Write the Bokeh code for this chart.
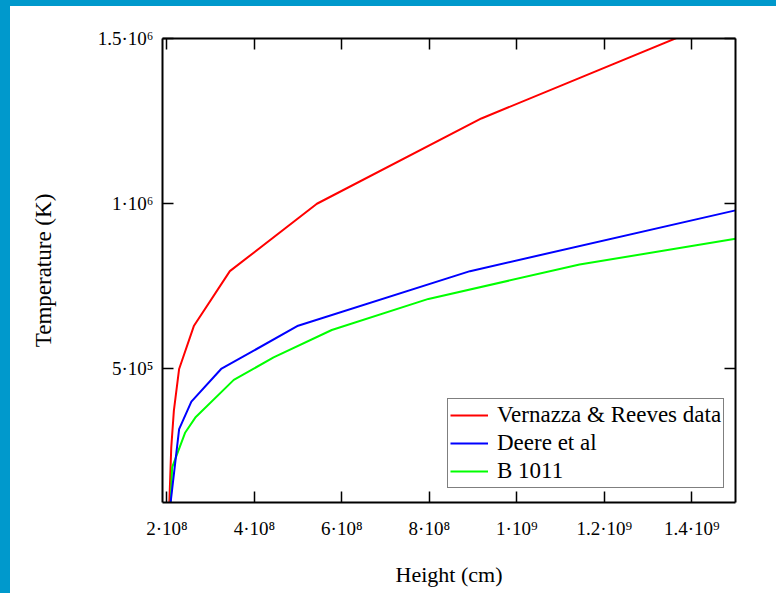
from bokeh.plotting import figure
from bokeh.models import (LinearAxis, FixedTicker, Range1d, Legend, LegendItem)
from bokeh.embed import file_html
from bokeh.resources import INLINE

# ---- data ----
height_vr = [2.055e8, 2.10e8, 2.16e8, 2.28e8, 2.62e8, 3.44e8, 5.43e8, 9.19e8, 1.5e9]
temp_vr = [9.0e4, 2.62e5, 3.74e5, 5.0e5, 6.31e5, 7.96e5, 1.0e6, 1.258e6, 1.575e6]

height_deere = [2.08e8, 2.28e8, 2.56e8, 3.24e8, 5.0e8, 8.93e8, 1.5e9]
temp_deere = [9.0e4, 3.18e5, 4.01e5, 5.0e5, 6.31e5, 7.96e5, 9.8e5]

height_b = [2.085e8, 2.12e8, 2.42e8, 2.65e8, 3.53e8, 4.44e8, 5.77e8, 7.98e8, 1.1435e9, 1.5e9]
temp_b = [9.0e4, 2.02e5, 3.08e5, 3.53e5, 4.67e5, 5.35e5, 6.18e5, 7.12e5, 8.16e5, 8.94e5]

series_names = ["Vernazza & Reeves data", "Deere et al", "B 1011"]

x_ticks = [2e8, 4e8, 6e8, 8e8, 1e9, 1.2e9, 1.4e9]
x_tick_labels = ["2·10⁸", "4·10⁸", "6·10⁸", "8·10⁸", "1·10⁹", "1.2·10⁹", "1.4·10⁹"]
y_ticks = [5e5, 1e6, 1.5e6]
y_tick_labels = ["5·10⁵", "1·10⁶", "1.5·10⁶"]

x_label = "Height (cm)"
y_label = "Temperature (K)"

FONT = "Liberation Serif"

p = figure(width=776, height=593, output_backend="svg", toolbar_location=None,
           x_range=Range1d(1.9e8, 1.5e9), y_range=Range1d(9.6e4, 1.5e6),
           x_axis_location=None, y_axis_location=None,
           min_border_left=162, min_border_right=41, min_border_top=38,
           min_border_bottom=91)
p.grid.visible = False
p.outline_line_color = None
p.background_fill_color = "white"
p.border_fill_color = None
p.styles = {"box-shadow": "inset 10px 6px 0 0 #0099cc", "background": "white"}


def style_axis(ax, ticks, labels, show_labels):
    ax.ticker = FixedTicker(ticks=ticks)
    ax.minor_tick_line_color = None
    ax.major_tick_in = 11
    ax.major_tick_out = 0
    ax.major_tick_line_width = 1.5
    ax.major_tick_line_color = "black"
    ax.axis_line_width = 2
    ax.axis_line_color = "black"
    ax.major_label_text_font = FONT
    ax.major_label_text_font_size = "19px"
    ax.major_label_text_color = "black"
    if show_labels:
        ax.major_label_overrides = {t: l for t, l in zip(ticks, labels)}
    else:
        ax.major_label_text_alpha = 0
        ax.major_label_text_font_size = "1px"
    ax.axis_label_text_font = FONT
    ax.axis_label_text_font_size = "22px"
    ax.axis_label_text_font_style = "normal"
    ax.axis_label_text_color = "black"


xb = LinearAxis(axis_label=x_label)
style_axis(xb, x_ticks, x_tick_labels, True)
xb.major_label_standoff = 15
xb.axis_label_standoff = 20
p.add_layout(xb, "below")

yl = LinearAxis(axis_label=y_label)
style_axis(yl, y_ticks, y_tick_labels, True)
yl.major_label_standoff = 9
yl.axis_label_standoff = 39
yl.axis_label_text_font_size = "23px"
p.add_layout(yl, "left")

xt = LinearAxis()
style_axis(xt, x_ticks, x_tick_labels, False)
p.add_layout(xt, "above")

yr = LinearAxis()
style_axis(yr, y_ticks, y_tick_labels, False)
p.add_layout(yr, "right")

r_vr = p.line(height_vr, temp_vr, line_color="#ff0000", line_width=2)
r_b = p.line(height_b, temp_b, line_color="#00ff00", line_width=2)
r_deere = p.line(height_deere, temp_deere, line_color="#0000ff", line_width=2)

legend = Legend(items=[LegendItem(label=series_names[0], renderers=[r_vr]),
                       LegendItem(label=series_names[1], renderers=[r_deere]),
                       LegendItem(label=series_names[2], renderers=[r_b])],
                location=(285, 14))
legend.label_text_font = FONT
legend.label_text_font_size = "23px"
legend.label_text_color = "black"
legend.label_height = 28
legend.glyph_width = 38
legend.glyph_height = 28
legend.label_standoff = 9
legend.spacing = 0
legend.padding = 2
legend.margin = 0
legend.border_line_color = "black"
legend.border_line_width = 1.5
legend.background_fill_color = "white"
legend.background_fill_alpha = 1
p.add_layout(legend, "center")

open("out.html", "w").write(file_html(p, INLINE))
